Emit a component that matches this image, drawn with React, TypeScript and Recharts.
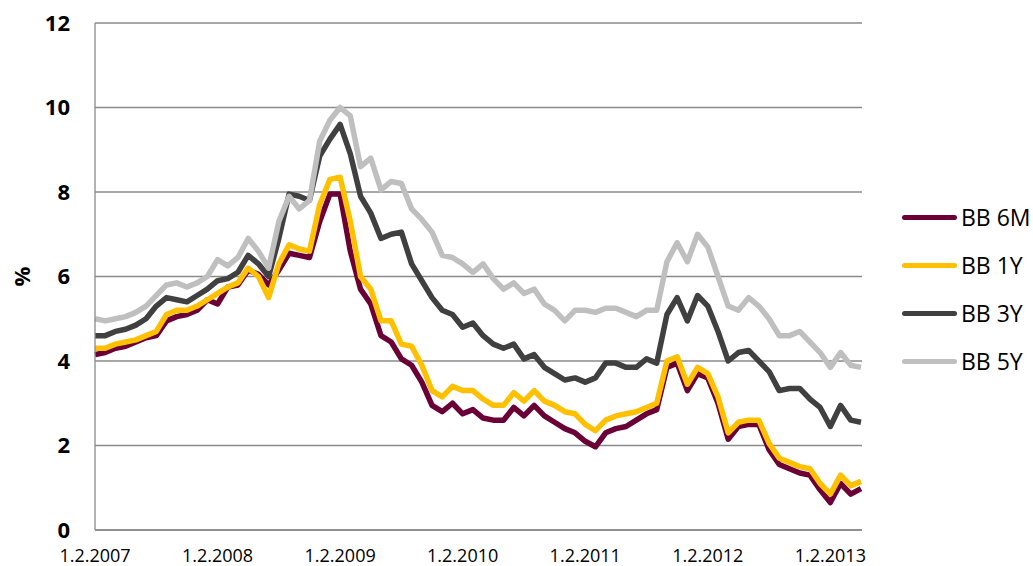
import { LineChart, Line, XAxis, YAxis, CartesianGrid } from "recharts";

// monthly observations, first value = 1.2.2007
const months: string[] = [];
for (let y = 2007; y <= 2013; y++) {
  for (let mo = 1; mo <= 12; mo++) {
    if ((y === 2007 && mo < 2) || (y === 2013 && mo > 5)) continue;
    months.push(`1.${mo}.${y}`);
  }
}

const tickLabels = ["1.2.2007", "1.2.2008", "1.2.2009", "1.2.2010", "1.2.2011", "1.2.2012", "1.2.2013"];
const yTicks = [0, 2, 4, 6, 8, 10, 12];

const bb6m = [
  4.15, 4.2, 4.3, 4.35, 4.45, 4.55, 4.6, 4.95, 5.05, 5.1, 5.2, 5.45,
  5.35, 5.75, 5.8, 6.15, 6.05, 5.8, 6.15, 6.55, 6.5, 6.45, 7.3, 7.95,
  7.95, 6.6, 5.7, 5.35, 4.6, 4.45, 4.05, 3.9, 3.5, 2.95, 2.8, 3.0,
  2.75, 2.85, 2.65, 2.6, 2.6, 2.9, 2.7, 2.95, 2.7, 2.55, 2.4, 2.3,
  2.1, 1.97, 2.3, 2.4, 2.45, 2.6, 2.75, 2.85, 3.85, 3.95, 3.3, 3.7,
  3.6, 3.0, 2.15, 2.45, 2.5, 2.5, 1.9, 1.55, 1.45, 1.35, 1.3, 0.95,
  0.65, 1.1, 0.85, 0.98,
];
const bb1y = [
  4.3, 4.3, 4.4, 4.45, 4.5, 4.6, 4.7, 5.1, 5.2, 5.2, 5.3, 5.45,
  5.6, 5.75, 5.85, 6.2, 6.0, 5.5, 6.3, 6.75, 6.65, 6.6, 7.7, 8.3,
  8.35, 7.3, 6.0, 5.7, 4.95, 4.95, 4.4, 4.35, 3.9, 3.3, 3.15, 3.4,
  3.3, 3.3, 3.1, 2.95, 2.95, 3.25, 3.05, 3.3, 3.05, 2.95, 2.8, 2.75,
  2.5, 2.35, 2.6, 2.7, 2.75, 2.8, 2.9, 3.0, 4.0, 4.1, 3.45, 3.85,
  3.7, 3.15, 2.3, 2.55, 2.6, 2.6, 2.05, 1.7, 1.6, 1.5, 1.45, 1.1,
  0.85, 1.3, 1.05, 1.15,
];
const bb3y = [
  4.6, 4.6, 4.7, 4.75, 4.85, 5.0, 5.3, 5.5, 5.45, 5.4, 5.55, 5.7,
  5.9, 5.95, 6.1, 6.5, 6.3, 6.0, 6.9, 7.95, 7.9, 7.8, 8.85, 9.25,
  9.6, 8.9, 7.9, 7.5, 6.9, 7.0, 7.05, 6.3, 5.9, 5.5, 5.2, 5.1,
  4.8, 4.9, 4.6, 4.4, 4.3, 4.4, 4.05, 4.15, 3.85, 3.7, 3.55, 3.6,
  3.5, 3.6, 3.95, 3.95, 3.85, 3.85, 4.05, 3.95, 5.1, 5.5, 4.95, 5.55,
  5.3, 4.7, 4.0, 4.2, 4.25, 4.0, 3.75, 3.3, 3.35, 3.35, 3.1, 2.9,
  2.45, 2.95, 2.6, 2.55,
];
const bb5y = [
  5.0, 4.95, 5.0, 5.05, 5.15, 5.3, 5.55, 5.8, 5.85, 5.75, 5.85, 6.0,
  6.4, 6.25, 6.45, 6.9, 6.6, 6.2, 7.3, 7.9, 7.6, 7.8, 9.2, 9.7,
  10.0, 9.8, 8.6, 8.8, 8.05, 8.25, 8.2, 7.6, 7.35, 7.05, 6.5, 6.45,
  6.3, 6.1, 6.3, 5.95, 5.7, 5.85, 5.6, 5.7, 5.35, 5.2, 4.95, 5.2,
  5.2, 5.15, 5.25, 5.25, 5.15, 5.05, 5.2, 5.2, 6.35, 6.8, 6.35, 7.0,
  6.7, 6.0, 5.3, 5.2, 5.5, 5.3, 5.0, 4.6, 4.6, 4.7, 4.45, 4.2,
  3.85, 4.2, 3.9, 3.85,
];

const series = [
  { key: "bb6m", name: "BB 6M", color: "#6B0036", values: bb6m },
  { key: "bb1y", name: "BB 1Y", color: "#FFC000", values: bb1y },
  { key: "bb3y", name: "BB 3Y", color: "#404040", values: bb3y },
  { key: "bb5y", name: "BB 5Y", color: "#BFBFBF", values: bb5y },
];

const data = months.map((date, i) => {
  const row: any = { i, date };
  series.forEach((s) => (row[s.key] = s.values[i]));
  return row;
});

const gridColor = "#8A8A8A";
const font = "'Open Sans', sans-serif";

export default function App() {
  return (
    <div style={{ position: "absolute", left: 0, top: 0, width: 1033, height: 566, background: "#fff" }}>
      <LineChart width={1033} height={566} data={data} margin={{ top: 23, right: 171, bottom: 0, left: 0 }}>
        <CartesianGrid vertical={false} stroke={gridColor} strokeWidth={1.3} />
        <XAxis
          dataKey="i"
          type="number"
          domain={[0, 75.1]}
          ticks={[0, 12, 24, 36, 48, 60, 72]}
          tickFormatter={(v) => tickLabels[v / 12]}
          axisLine={{ stroke: gridColor, strokeWidth: 1.3 }}
          tickLine={false}
          tickSize={0}
          tickMargin={19}
          height={36}
          interval={0}
          tick={{ fill: "#000", fontSize: 18, fontFamily: font }}
        />
        <YAxis
          domain={[0, 12]}
          ticks={yTicks}
          width={95}
          axisLine={{ stroke: gridColor, strokeWidth: 1.3 }}
          tickLine={false}
          tickSize={0}
          tickMargin={25}
          interval={0}
          tick={{ fill: "#000", fontSize: 22, fontWeight: 700, fontFamily: font }}
          label={(props: any) => {
            const vb = props.viewBox || { y: 23, height: 507 };
            const cy = vb.y + vb.height / 2;
            return (
              <text
                x={21}
                y={cy}
                transform={`rotate(-90 21 ${cy})`}
                textAnchor="middle"
                dominantBaseline="central"
                fontSize={22}
                fontWeight={700}
                fontFamily={font}
                fill="#000"
              >
                %
              </text>
            );
          }}
        />
        {series.map((s) => (
          <Line
            key={s.key}
            type="linear"
            dataKey={s.key}
            name={s.name}
            stroke={s.color}
            strokeWidth={5.5}
            strokeLinejoin="round"
            dot={false}
            isAnimationActive={false}
          />
        ))}
      </LineChart>
      <div style={{ position: "absolute", left: 902, top: 217 - 24, fontFamily: font, fontSize: 23 }}>
        {series.map((s) => (
          <div key={s.key} style={{ display: "flex", alignItems: "center", height: 48 }}>
            <div style={{ width: 55, height: 5, borderRadius: 3, background: s.color, marginRight: 4 }} />
            <span style={{ color: "#000", lineHeight: "48px" }}>{s.name}</span>
          </div>
        ))}
      </div>
    </div>
  );
}
